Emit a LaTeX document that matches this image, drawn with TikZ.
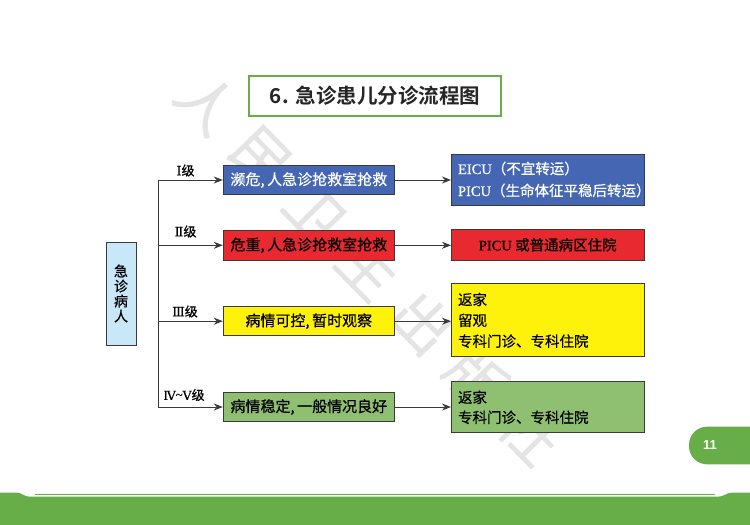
\documentclass[tikz,border=0pt]{standalone}
\usepackage{fontspec}
\setmainfont{Liberation Serif}[FakeBold=0.6]
\newfontfamily\cjk{Noto Sans CJK SC}[FakeBold=0.6]
\newfontfamily\ttl{Noto Sans CJK SC Bold}
\newfontfamily\rn{DejaVu Serif}[FakeBold=0.3]
\newfontfamily\pgf{Liberation Sans}
\usetikzlibrary{arrows.meta,calc}
\definecolor{bd}{HTML}{3A3A3A}
\definecolor{cblue}{HTML}{4466B3}
\definecolor{cred}{HTML}{E8292F}
\definecolor{cyel}{HTML}{FFF20A}
\definecolor{cgrn}{HTML}{8FBF70}
\definecolor{clb}{HTML}{C8E7F9}
\definecolor{pgreen}{HTML}{67AE48}
\definecolor{wm}{HTML}{E4E4E4}
\begin{document}
\begin{tikzpicture}[x=1pt,y=-1pt,
  box/.style={draw=bd,line width=1pt,inner sep=0pt},
  mid/.style={box,minimum width=171,minimum height=29.5,font=\cjk\fontsize{15}{16}\selectfont},
  rbox/.style={box,minimum width=192.5,font=\cjk\fontsize{14.5}{21}\selectfont},
  rboxl/.style={rbox,text width=179.5,inner xsep=6.5,align=left},
  lvl/.style={font=\cjk\fontsize{13}{14}\selectfont,inner sep=0pt},
  arr/.style={draw=bd,line width=1pt,-{Stealth[length=9pt,width=7pt]}},
  wmk/.style={text=wm,font=\cjk\fontsize{58}{58}\selectfont,rotate=-45.6,inner sep=0pt}]
\useasboundingbox (0,0) rectangle (750,525);
\fill[white] (0,0) rectangle (750,525);
% watermark
\foreach \c [count=\i from 0] in {人,民,卫,生,出,版,社}{
  \node[wmk] (wm\i) at ($(207,103)!\i/6!(530,433)$) {\c};
}
% title
\node[draw=pgreen,line width=2pt,minimum width=252,minimum height=40,inner sep=0pt,
  font=\ttl\fontsize{20.5}{22}\selectfont,text=black!85] (title) at (375,95.7) {6.\,\,急诊患儿分诊流程图};
% left box
\node[box,fill=clb,minimum width=30,minimum height=103,align=center,
  font=\cjk\fontsize{14}{15}\selectfont] (pt) at (121,293.5) {急\\诊\\病\\人};
% middle boxes
\node[mid,fill=cblue,text=white] (m1) at (308.8,180) {濒危,\,人急诊抢救室抢救};
\node[mid,fill=cred] (m2) at (308.8,245.3) {危重,\,人急诊抢救室抢救};
\node[mid,fill=cyel] (m3) at (308.8,321.2) {病情可控,\,暂时观察};
\node[mid,fill=cgrn] (m4) at (308.8,407) {病情稳定,\,一般情况良好};
% right boxes
\node[rboxl,fill=cblue,text=white,minimum height=51,font=\cjk\fontsize{14.5}{22}\selectfont] (r1) at (547.75,179.5)
  {{\rmfamily EICU}（不宜转运）\\{\rmfamily PICU}（生命体征平稳后转运）};
\node[rbox,fill=cred,minimum height=31] (r2) at (547.75,244.8) {{\rmfamily PICU} 或普通病区住院};
\node[rboxl,fill=cyel,minimum height=72.7,font=\cjk\fontsize{14.5}{20.8}\selectfont] (r3) at (547.75,320.3)
  {返家\\留观\\专科门诊、专科住院};
\node[rboxl,fill=cgrn,minimum height=51.3,font=\cjk\fontsize{14.5}{20}\selectfont] (r4) at (547.75,407.3)
  {返家\\专科门诊、专科住院};
% trunk
\coordinate (trunk) at (158.3,0);
\draw[bd,line width=1pt] (trunk |- m1.west) -- (trunk |- m4.west);
\foreach \k in {1,2,3,4}{
  \draw[arr] (trunk |- m\k.west) -- (m\k.west);
  \draw[arr] (m\k.east) -- (m\k.east -| r\k.west);
}
% level labels
\node[lvl] (l1) at (185.5,170.5) {{\rn\fontsize{13}{14}\selectfont Ⅰ}级};
\node[lvl] (l2) at (185.5,231.5) {{\rn\fontsize{13}{14}\selectfont Ⅱ}级};
\node[lvl] (l3) at (185,311.5) {{\rn\fontsize{13}{14}\selectfont Ⅲ}级};
\node[lvl] (l4) at (184,395) {{\rn\fontsize{12.5}{14}\selectfont Ⅳ\raisebox{1pt}{\rmfamily\textasciitilde}Ⅴ}级};
% page badge
\fill[pgreen,rounded corners=18pt] (689,426.7) rectangle (780,464.3);
\node[text=white,font=\pgf\bfseries\fontsize{13}{14}\selectfont] (pg) at (710,445.5) {11};
% bottom band
\fill[pgreen] (0,525) -- (0,492.7) -- (18,492.7) .. controls (22,493) and (24,496.7) .. (30,496.7)
  -- (718,496.7) .. controls (724,496.7) and (726,492.7) .. (732,492.7) -- (750,492.7) -- (750,525) -- cycle;
\draw[pgreen,line width=1.2pt] (35,494.2) -- (715,494.2);
\end{tikzpicture}
\end{document}
